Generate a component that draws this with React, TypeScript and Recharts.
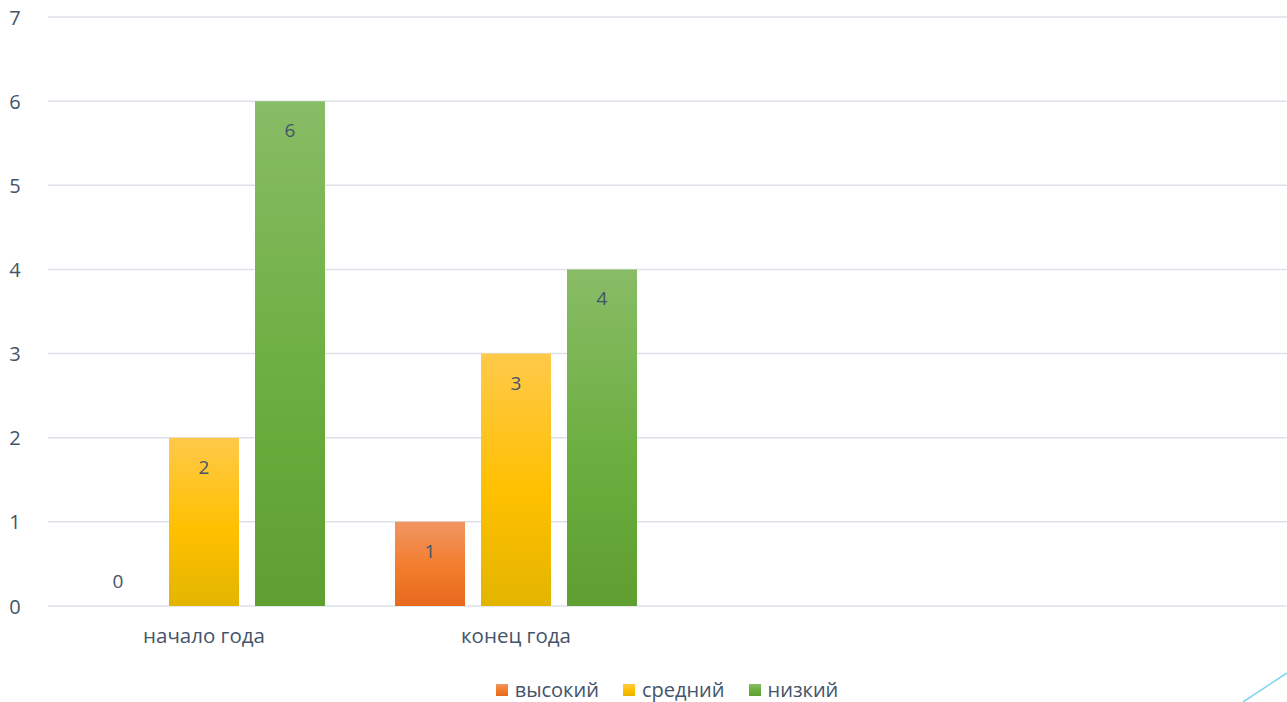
import React from "react";
import { BarChart, Bar, XAxis, YAxis, CartesianGrid, LabelList } from "recharts";

const categories = ["начало года", "конец года", "", ""];
const high = [0, 1, null, null];
const mid = [2, 3, null, null];
const low = [6, 4, null, null];
const yTicks = [0, 1, 2, 3, 4, 5, 6, 7];

const series = [
  { key: "high", name: "высокий", grad: "gHigh", stops: ["#f19563", "#f27c2c", "#e7691d"] },
  { key: "mid", name: "средний", grad: "gMid", stops: ["#ffc94a", "#ffc000", "#e3b500"] },
  { key: "low", name: "низкий", grad: "gLow", stops: ["#88bc66", "#6cae3f", "#5f9e31"] },
];

const data = categories.map((c, i) => ({
  name: c,
  high: high[i],
  mid: mid[i],
  low: low[i],
}));

const TEXT = "#44546a";
const FONT = "'Open Sans', 'Noto Sans', sans-serif";

const BarLabel = (props: any) => {
  const { x, y, width, value } = props;
  if (value === null || value === undefined) return null;
  const cy = value === 0 ? 606 - 25 : Number(y) + 29;
  return (
    <text x={Number(x) + Number(width) / 2} y={cy} textAnchor="middle" dominantBaseline="central"
      fill={TEXT} fontSize={19} fontFamily={FONT}>
      {value}
    </text>
  );
};

const YTick = (props: any) => {
  const { y, payload } = props;
  return (
    <text x={15} y={y} textAnchor="middle" dominantBaseline="central"
      fill={TEXT} fontSize={20} fontFamily={FONT}>
      {payload.value}
    </text>
  );
};

const XTick = (props: any) => {
  const { x, y, payload } = props;
  return (
    <text x={x} y={y + 21} textAnchor="middle" dominantBaseline="central"
      fill={TEXT} fontSize={20.5} fontFamily={FONT}>
      {payload.value}
    </text>
  );
};

export default function App() {
  return (
    <div style={{ position: "absolute", left: 0, top: 0, width: 1287, height: 702, overflow: "hidden", background: "#fff" }}>
      <BarChart
        width={1300}
        height={702}
        data={data}
        margin={{ top: 17, right: 4, left: 0, bottom: 66 }}
        barCategoryGap={35}
        barGap={16}
        barSize={70}
      >
        <defs>
          {series.map((s) => (
            <linearGradient key={s.grad} id={s.grad} x1="0" y1="0" x2="0" y2="1">
              <stop offset="0%" stopColor={s.stops[0]} />
              <stop offset="55%" stopColor={s.stops[1]} />
              <stop offset="100%" stopColor={s.stops[2]} />
            </linearGradient>
          ))}
        </defs>
        <CartesianGrid vertical={false} stroke="#dde1e7" strokeWidth={1.5} />
        <XAxis dataKey="name" axisLine={false} tickLine={false} height={30} tick={<XTick />} interval={0} />
        <YAxis domain={[0, 7]} ticks={yTicks} width={48} axisLine={false} tickLine={false} tick={<YTick />} />
        {series.map((s) => (
          <Bar key={s.key} dataKey={s.key} name={s.name} fill={`url(#${s.grad})`} isAnimationActive={false}
            minPointSize={(v: any) => (v === 0 ? 0.01 : 0)}>
            <LabelList dataKey={s.key} content={<BarLabel />} />
          </Bar>
        ))}
      </BarChart>
      <div style={{ position: "absolute", top: 676, left: 0, width: 1334, display: "flex", justifyContent: "center", gap: 24, fontFamily: FONT, fontSize: 20, color: TEXT }}>
        {series.map((s) => (
          <div key={s.key} style={{ display: "flex", alignItems: "center", gap: 7 }}>
            <span style={{ width: 12, height: 12, display: "inline-block", background: `linear-gradient(${s.stops[0]}, ${s.stops[1]}, ${s.stops[2]})` }} />
            <span>{s.name}</span>
          </div>
        ))}
      </div>
      <svg style={{ position: "absolute", left: 0, top: 0 }} width={1287} height={702}>
        <line x1={1243} y1={702} x2={1287} y2={673} stroke="#7fd3f2" strokeWidth={1.5} />
      </svg>
    </div>
  );
}
